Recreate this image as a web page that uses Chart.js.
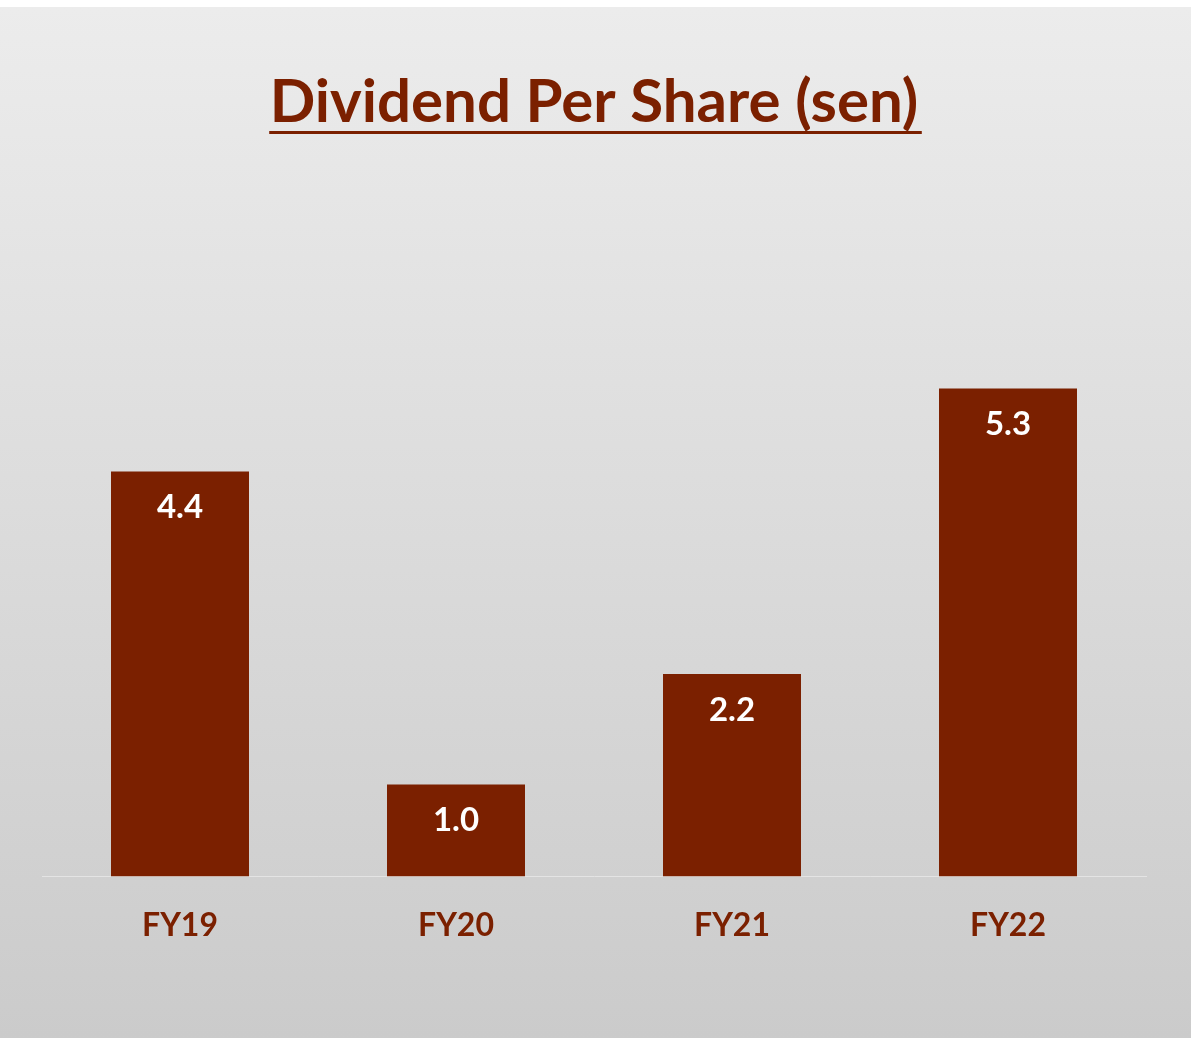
<!DOCTYPE html>
<html>
<head>
<meta charset="utf-8">
<script src="https://cdn.jsdelivr.net/npm/chart.js@4"></script>
<style>
  html, body { margin: 0; padding: 0; background: #fff; }
  #wrap { width: 1191px; height: 1038px; }
</style>
</head>
<body>
<div id="wrap"><canvas id="graphCanvas" width="1191" height="1038"></canvas></div>
<script>
const categories = ['FY19', 'FY20', 'FY21', 'FY22'];
const dividends = [4.4, 1.0, 2.2, 5.3];
const valueLabels = ['4.4', '1.0', '2.2', '5.3'];

const maroon = '#7b2000';
const fontFamily = 'Lato, "Open Sans", sans-serif';

// gradient backdrop, white strip at the very top like the source screenshot
const backdrop = {
    id: 'backdrop',
    beforeDraw(chart) {
        const { ctx, width, height } = chart;
        ctx.save();
        ctx.fillStyle = '#ffffff';
        ctx.fillRect(0, 0, width, height);
        const g = ctx.createLinearGradient(0, 7, 0, height);
        g.addColorStop(0, '#ececec');
        g.addColorStop(1, '#cbcbcb');
        ctx.fillStyle = g;
        ctx.fillRect(0, 7, width, height - 7);
        ctx.restore();
    }
};

// underline under the title
const titleUnderline = {
    id: 'titleUnderline',
    afterDraw(chart) {
        const tb = chart.titleBlock;
        if (!tb) return;
        const { ctx } = chart;
        const f = chart.options.plugins.title.font;
        ctx.save();
        ctx.font = `${f.weight} ${f.size}px ${f.family}`;
        const w = ctx.measureText(chart.options.plugins.title.text).width;
        const cx = (chart.width) / 2;
        ctx.fillStyle = maroon;
        ctx.fillRect(cx - w / 2 - 2, 131, w + 4, 3);
        ctx.restore();
    }
};

// value labels inside the top of each bar
const barValues = {
    id: 'barValues',
    afterDatasetsDraw(chart) {
        const { ctx } = chart;
        const meta = chart.getDatasetMeta(0);
        ctx.save();
        ctx.fillStyle = '#ffffff';
        ctx.font = `bold 33px ${fontFamily}`;
        ctx.textAlign = 'center';
        ctx.textBaseline = 'middle';
        meta.data.forEach((bar, i) => {
            ctx.fillText(valueLabels[i], bar.x, bar.y + 36);
        });
        ctx.restore();
    }
};

const context = document.getElementById('graphCanvas').getContext('2d');
const chart = new Chart(context, {
    type: 'bar',
    data: {
        labels: categories,
        datasets: [
            {
                label: 'Dividend Per Share (sen)',
                data: dividends,
                backgroundColor: maroon,
                borderWidth: 0,
                categoryPercentage: 1.0,
                barPercentage: 0.5,
            }
        ]
    },
    options: {
        responsive: false,
        animation: false,
        layout: {
            padding: { left: 42, right: 45, top: 0, bottom: 63 }
        },
        plugins: {
            legend: { display: false },
            tooltip: { enabled: false },
            title: {
                display: true,
                text: 'Dividend Per Share (sen)',
                color: maroon,
                font: { family: fontFamily, size: 60, weight: 'bold' },
                padding: { top: 67, bottom: 93 },
            }
        },
        scales: {
            x: {
                grid: { display: false, drawTicks: false },
                border: { display: true, color: '#e4e4e4', width: 1 },
                ticks: {
                    color: maroon,
                    font: { family: fontFamily, size: 32, weight: 'bold' },
                    padding: 30,
                }
            },
            y: {
                display: false,
                min: 0,
                max: 7,
            }
        }
    },
    plugins: [backdrop, titleUnderline, barValues]
});
</script>
</body>
</html>
